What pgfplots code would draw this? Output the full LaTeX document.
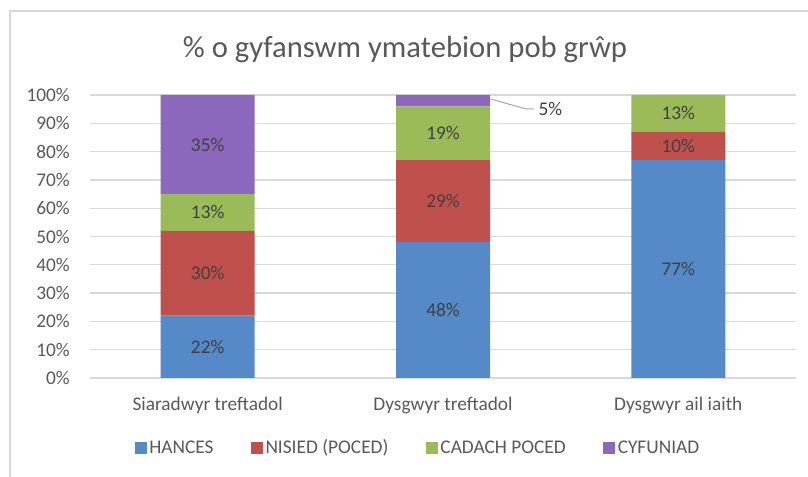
\documentclass[border=0pt]{standalone}
\usepackage{pgfplots}
\pgfplotsset{compat=1.18}
\usepackage{fontspec}
\setmainfont{Carlito}
\definecolor{cBlue}{RGB}{85,137,200}
\definecolor{cRed}{RGB}{192,80,77}
\definecolor{cGreen}{RGB}{155,187,89}
\definecolor{cPurple}{RGB}{139,104,187}
\definecolor{tickgray}{RGB}{89,89,89}
\definecolor{labgray}{RGB}{64,64,64}
\definecolor{gridgray}{RGB}{217,217,217}
\DeclareRobustCommand{\myfont}{\fontsize{14.5}{17}\selectfont}
\begin{document}
\begin{tikzpicture}
\useasboundingbox (0,0) rectangle (606pt,357.75pt);
\draw[gridgray, line width=1pt] (7.5pt,0pt) -- (7.5pt,349.5pt) -- (606pt,349.5pt);
\node[anchor=base, text=tickgray, font=\fontsize{23}{27}\selectfont] at (303.75pt,314.25pt) {\% o gyfanswm ymatebion pob grŵp};
\begin{axis}[
  at={(67.5pt,74.25pt)}, anchor=south west,
  scale only axis, width=529.5pt, height=212.25pt,
  ybar stacked, bar width=70.5pt,
  xmin=-0.5, xmax=2.5, ymin=0, ymax=100,
  ytick={0,10,...,100},
  yticklabel={\pgfmathprintnumber{\tick}\%},
  /pgf/number format/assume math mode=true,
  xtick={0,1,2},
  xticklabels={Siaradwyr treftadol, Dysgwyr treftadol, Dysgwyr ail iaith},
  axis line style={draw=none},
  major tick length=0pt,
  ymajorgrids, grid style={gridgray, line width=1pt},
  tick label style={font=\myfont, text=tickgray},
  yticklabel style={anchor=east, inner sep=0pt, xshift=-15pt},
  xticklabel style={anchor=north, inner sep=0pt, yshift=-14pt},
  legend columns=4,
  legend style={at={(0.465,-0.247)}, anchor=center, draw=none, font=\myfont, text=tickgray,
    /tikz/every even column/.append style={column sep=26pt}},
  legend image code/.code={\fill[#1] (0pt,-4.5pt) rectangle (9pt,4.5pt);},
  clip=false,
]
\addplot[fill=cBlue, draw=none] coordinates {(0,22) (1,48) (2,77)};
\addplot[fill=cRed, draw=none] coordinates {(0,30) (1,29) (2,10)};
\addplot[fill=cGreen, draw=none] coordinates {(0,13) (1,19) (2,13)};
\addplot[fill=cPurple, draw=none] coordinates {(0,35) (1,4) (2,0)};
\legend{HANCES, NISIED (POCED), CADACH POCED, CYFUNIAD}
\coordinate (a1) at (axis cs:0,11);
\coordinate (a2) at (axis cs:0,37);
\coordinate (a3) at (axis cs:0,58.5);
\coordinate (a4) at (axis cs:0,82.5);
\coordinate (b1) at (axis cs:1,24);
\coordinate (b2) at (axis cs:1,62.5);
\coordinate (b3) at (axis cs:1,86.5);
\coordinate (b4) at (axis cs:1.405,95.1);
\coordinate (c1) at (axis cs:2,38.5);
\coordinate (c2) at (axis cs:2,82);
\coordinate (c3) at (axis cs:2,93.5);
\coordinate (l1) at (axis cs:1.202,98.6);
\coordinate (l2) at (axis cs:1.351,95.1);
\coordinate (l3) at (axis cs:1.385,95.1);
\end{axis}
\begin{scope}[every node/.style={font=\myfont, text=labgray}]
\node at (a1) {22\%};
\node at (a2) {30\%};
\node at (a3) {13\%};
\node at (a4) {35\%};
\node at (b1) {48\%};
\node at (b2) {29\%};
\node at (b3) {19\%};
\node[anchor=west, inner sep=0pt] at (b4) {5\%};
\node at (c1) {77\%};
\node at (c2) {10\%};
\node at (c3) {13\%};
\end{scope}
\draw[gray!70, line width=0.75pt] (l1) -- (l2) -- (l3);
\end{tikzpicture}
\end{document}
